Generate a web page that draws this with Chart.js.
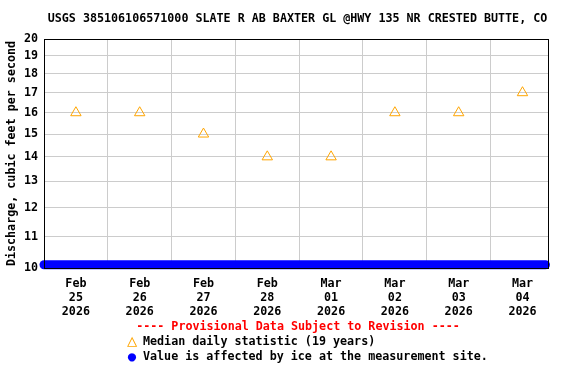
<!DOCTYPE html>
<html>
<head>
<meta charset="utf-8">
<script src="https://cdn.jsdelivr.net/npm/chart.js@4/dist/chart.umd.min.js"></script>
<style>
  html, body { margin: 0; padding: 0; background: #fff; }
  #wrap { position: relative; width: 576px; height: 384px; font-family: 'DejaVu Sans Mono', monospace; font-weight: bold; }
  #chart { position: absolute; left: 0; top: 0; }
  .txt { position: absolute; white-space: pre; color: #000; }
  #title { top: 11px; left: 0; width: 576px; text-align: center; font-size: 11.7px; padding-left: 19px; box-sizing: border-box; }
  #prov { top: 319px; left: 0; width: 576px; text-align: center; color: #f00; font-size: 11.7px; padding-left: 20px; box-sizing: border-box; }
  .leg { left: 121px; font-size: 11.7px; }
  .sym { display: inline-block; width: 22px; text-align: center; vertical-align: top; }
</style>
</head>
<body>
<div id="wrap">
  <canvas id="chart" width="576" height="384"></canvas>
  <div class="txt" id="title">USGS 385106106571000 SLATE R AB BAXTER GL @HWY 135 NR CRESTED BUTTE, CO</div>
  <div class="txt" id="prov">---- Provisional Data Subject to Revision ----</div>
  <div class="txt leg" style="top:334px"><span class="sym" style="color:#FFA500;font-size:17px;line-height:13px;font-weight:normal">△</span>Median daily statistic (19 years)</div>
  <div class="txt leg" style="top:349px"><span class="sym" style="color:#0000FF;font-size:14px;line-height:14px">●</span>Value is affected by ice at the measurement site.</div>
</div>
<script>
// x axis = days since Feb 25 2026 00:00
const dayLabels = [['Feb', '25', '2026'], ['Feb', '26', '2026'], ['Feb', '27', '2026'], ['Feb', '28', '2026'],
                   ['Mar', '01', '2026'], ['Mar', '02', '2026'], ['Mar', '03', '2026'], ['Mar', '04', '2026']];
const medianX = [0.5, 1.5, 2.5, 3.5, 4.5, 5.5, 6.5, 7.5];
const medianValues = [16, 16, 15, 14, 14, 16, 16, 17];
const iceX = [0.0, 7.86];
const iceValues = [10.1, 10.1];
const yTicks = [10, 11, 12, 13, 14, 15, 16, 17, 18, 19, 20];

const tickFont = { family: "'DejaVu Sans Mono', monospace", size: 11.7, weight: 'bold' };

new Chart(document.getElementById('chart'), {
    type: 'scatter',
    data: {
        datasets: [
            {
                label: 'ice',
                data: iceX.map((x, i) => ({ x: x, y: iceValues[i] })),
                showLine: true,
                borderColor: '#0000FF',
                borderWidth: 9,
                borderCapStyle: 'round',
                pointRadius: 0,
                clip: false
            },
            {
                label: 'median',
                data: medianX.map((x, i) => ({ x: x, y: medianValues[i] })),
                pointStyle: 'triangle',
                pointRadius: 6,
                borderColor: '#FFA500',
                backgroundColor: 'rgba(0,0,0,0)',
                borderWidth: 1
            }
        ]
    },
    options: {
        responsive: false,
        animation: false,
        layout: { padding: { top: 39, right: 28, bottom: 66, left: 0 } },
        plugins: { legend: { display: false }, tooltip: { enabled: false } },
        scales: {
            x: {
                type: 'linear',
                min: 0,
                max: 7.9,
                afterBuildTicks: s => {
                    const t = [];
                    for (let i = 0; i <= 7; i++) { t.push({ value: i }); t.push({ value: i + 0.5 }); }
                    s.ticks = t;
                },
                afterFit: s => { s.height = 50; },
                grid: {
                    color: c => (c.tick && c.tick.value % 1 === 0 && c.tick.value > 0) ? '#cccccc' : 'rgba(0,0,0,0)',
                    drawTicks: false
                },
                border: { color: '#000', width: 1 },
                ticks: {
                    color: '#000',
                    font: tickFont,
                    padding: 9,
                    maxRotation: 0,
                    autoSkip: false,
                    callback: v => (v % 1 === 0.5) ? dayLabels[Math.floor(v)] : ''
                }
            },
            y: {
                type: 'logarithmic',
                min: 10,
                max: 20,
                afterBuildTicks: s => { s.ticks = yTicks.map(v => ({ value: v })); },
                afterFit: s => { s.width = 44; },
                grid: { color: '#cccccc', drawTicks: false },
                border: { color: '#000', width: 1 },
                ticks: {
                    color: '#000',
                    font: tickFont,
                    padding: 6,
                    autoSkip: false,
                    callback: v => String(v)
                },
                title: {
                    display: true,
                    text: 'Discharge, cubic feet per second',
                    color: '#000',
                    font: { family: "'DejaVu Sans Mono', monospace", size: 11.7, weight: 'bold' },
                    padding: { top: 5, bottom: 0 }
                }
            }
        }
    },
    plugins: [{
        id: 'frame',
        afterDraw: c => {
            const a = c.chartArea, ctx = c.ctx;
            ctx.save();
            ctx.strokeStyle = '#000';
            ctx.lineWidth = 1;
            ctx.strokeRect(Math.round(a.left) + 0.5, Math.round(a.top) + 0.5, Math.round(a.right - a.left), Math.round(a.bottom - a.top));
            ctx.restore();
        }
    }]
});
</script>
</body>
</html>
